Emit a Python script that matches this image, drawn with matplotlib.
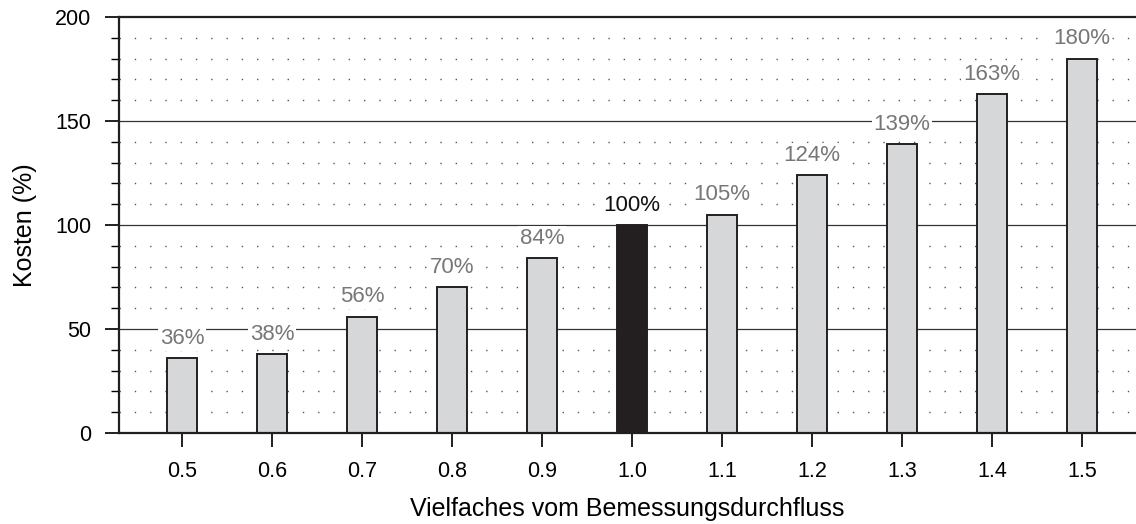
import matplotlib.pyplot as plt
from matplotlib.ticker import MultipleLocator

plt.rcParams['font.family'] = ['Liberation Sans', 'DejaVu Sans']

faktor = [0.5, 0.6, 0.7, 0.8, 0.9, 1.0, 1.1, 1.2, 1.3, 1.4, 1.5]
kosten = [36, 38, 56, 70, 84, 100, 105, 124, 139, 163, 180]
labels = ['0.5', '0.6', '0.7', '0.8', '0.9', '1.0', '1.1', '1.2', '1.3', '1.4', '1.5']

fig = plt.figure(figsize=(11.36, 5.24), dpi=100)
ax = fig.add_axes([119/1136, 1 - 433/524, 1 - 119/1136, (433-17)/524])

# gridlines: dotted minor, solid major
for y in range(10, 200, 10):
    if y % 50 == 0:
        ax.axhline(y, color='#333333', linewidth=0.9, zorder=0)
    else:
        ax.axhline(y, color='#555555', linewidth=1.0, linestyle=(0, (1, 10)), zorder=0)

colors = ['#231f20' if f == 1.0 else '#d6d7d9' for f in faktor]
ax.bar(faktor, kosten, width=0.033, color=colors, edgecolor='#231f20', linewidth=1.4, zorder=2)

for f, k in zip(faktor, kosten):
    c = '#111111' if f == 1.0 else '#777777'
    ax.text(f, k + 4.5, f'{k}%', ha='center', va='bottom', fontsize=16, color=c, zorder=3,
            bbox=dict(facecolor='white', edgecolor='none', pad=1.5))

ax.set_xlim(0.43, 1.56)
ax.set_ylim(0, 200)
ax.set_xticks(faktor)
ax.set_xticklabels(labels)
ax.yaxis.set_major_locator(MultipleLocator(50))
ax.yaxis.set_minor_locator(MultipleLocator(10))
ax.tick_params(axis='both', labelsize=15.5, direction='out', color='#231f20')
ax.tick_params(axis='both', which='major', length=10, width=1.4, pad=10)
ax.tick_params(axis='y', which='minor', length=6, width=1.0)
ax.spines['right'].set_visible(False)
for s in ['left', 'bottom', 'top']:
    ax.spines[s].set_linewidth(1.6)
    ax.spines[s].set_color('#231f20')

ax.set_xlabel('Vielfaches vom Bemessungsdurchfluss', fontsize=18, labelpad=11)
ax.set_ylabel('Kosten (%)', fontsize=18, labelpad=13)

fig.savefig('out.png', dpi=100)
